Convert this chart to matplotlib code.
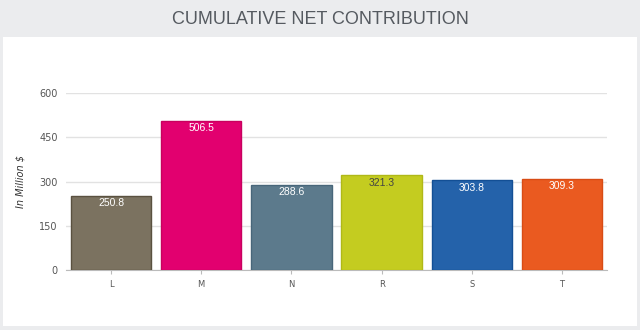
import matplotlib

matplotlib.use("Agg")
from matplotlib import pyplot as plt
from matplotlib.patches import Rectangle

categories = ["L", "M", "N", "R", "S", "T"]
values = [250.8, 506.5, 288.6, 321.3, 303.8, 309.3]
bar_colors = ["#7b7260", "#e2006f", "#5c7a8c", "#c4cc20", "#2462aa", "#ea5a20"]
edge_colors = ["#5a5140", "#c8005f", "#48667a", "#b0b818", "#134f95", "#d84c15"]
label_colors = ["white", "white", "white", "#444444", "white", "white"]
yticks = [0, 150, 300, 450, 600]

W, H = 640, 330
fig = plt.figure(figsize=(W / 100, H / 100), dpi=100, facecolor="#ebecee")

# white panel
fig.patches.append(Rectangle((3 / W, 4 / H), 634 / W, 289 / H,
                             transform=fig.transFigure, facecolor="white",
                             edgecolor="none", zorder=-10))

fig.text(320 / W, 1 - 19 / H, "CUMULATIVE NET CONTRIBUTION",
         ha="center", va="center", fontsize=13, color="#555a60",
         family=["Liberation Sans Narrow", "Liberation Sans", "DejaVu Sans"])

ax = fig.add_axes([66 / W, (H - 270) / H, (607 - 66) / W, (270 - 93) / H])
ax.set_facecolor("none")
x = range(len(categories))
ax.bar(x, values, width=0.89, color=bar_colors, edgecolor=edge_colors,
       linewidth=1, zorder=3)
for i, v in enumerate(values):
    ax.text(i, v - 8, f"{v:.1f}", ha="center", va="top", fontsize=7.5,
            color=label_colors[i], zorder=4, family="Liberation Sans")

ax.set_xlim(-0.5, len(categories) - 0.5)
ax.set_ylim(0, 600)
ax.set_yticks(yticks)
ax.set_xticks(list(x))
ax.set_xticklabels(categories)
ax.grid(axis="y", color="#e2e2e2", linewidth=1, zorder=0)
for s in ["top", "right", "left"]:
    ax.spines[s].set_visible(False)
ax.spines["bottom"].set_color("#bbbbbb")
ax.tick_params(axis="y", length=0, pad=6, labelsize=7, labelcolor="#555555")
ax.tick_params(axis="x", length=3, color="#bbbbbb", pad=4, labelsize=6,
               labelcolor="#555555")
ax.set_ylabel("In Million $", fontsize=7, style="italic", color="#333333",
              labelpad=10)

fig.savefig("out.png", dpi=100, facecolor=fig.get_facecolor())
